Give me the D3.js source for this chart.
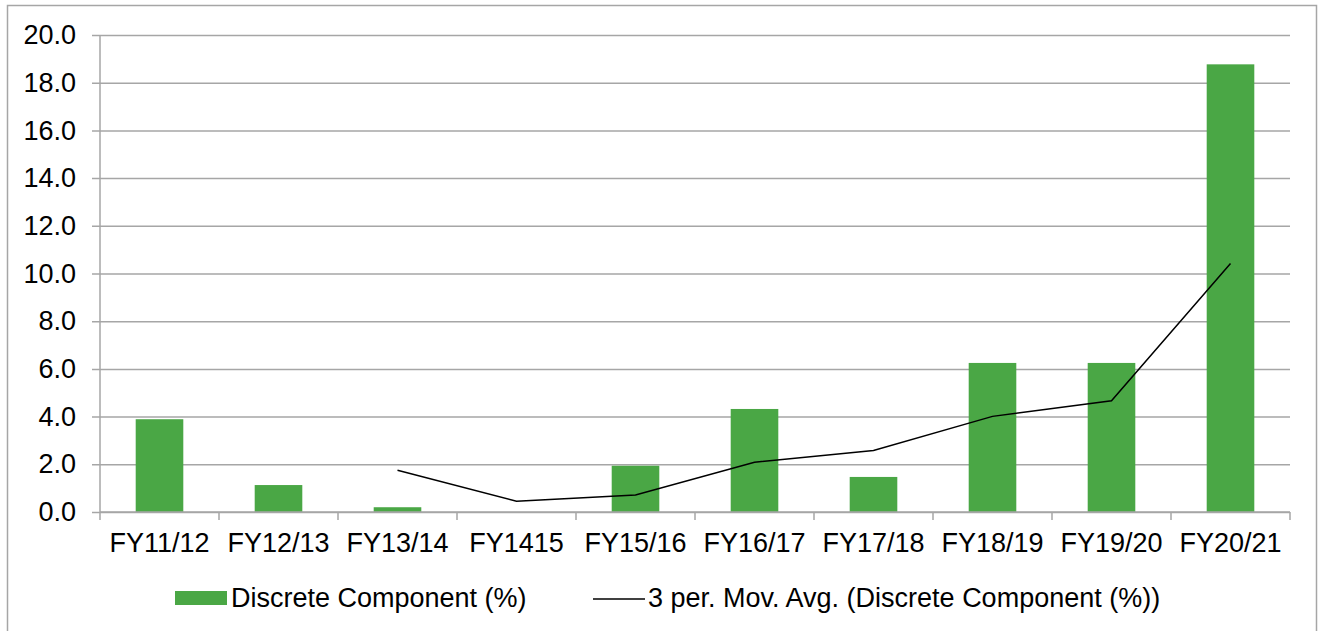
<!DOCTYPE html>
<html>
<head>
<meta charset="utf-8">
<script src="https://cdn.jsdelivr.net/npm/d3@7"></script>
<style>
  html, body { margin: 0; padding: 0; background: #fff; }
  svg { display: block; font-family: "Liberation Sans", Arial, sans-serif; }
</style>
</head>
<body>
<svg id="chart" width="1319" height="631"></svg>
<script>
// Fiscal years on the category axis
const categories = ["FY11/12", "FY12/13", "FY13/14", "FY1415", "FY15/16",
                    "FY16/17", "FY17/18", "FY18/19", "FY19/20", "FY20/21"];
// Discrete component share, percent
const discrete = [3.89, 1.13, 0.2, 0, 1.94, 4.32, 1.47, 6.25, 6.25, 18.77];
// Three-period moving average, starting at the third year
const movAvgCategories = ["FY13/14", "FY1415", "FY15/16", "FY16/17",
                          "FY17/18", "FY18/19", "FY19/20", "FY20/21"];
const movAvg = [1.75, 0.45, 0.71, 2.09, 2.58, 4.01, 4.66, 10.42];
// Value axis ticks
const yTicks = [0, 2, 4, 6, 8, 10, 12, 14, 16, 18, 20];

const svg = d3.select("#chart");
const gridColor = "#a6a6a6";
const barColor = "#4aa745";
const fontSize = 27;

// Outer chart frame
svg.append("rect")
  .attr("x", 7.5).attr("y", 5.5)
  .attr("width", 1309).attr("height", 640)
  .attr("fill", "none").attr("stroke", gridColor).attr("stroke-width", 1.5);

const plot = { left: 100, right: 1290, top: 35, bottom: 512 };

const x = d3.scaleBand().domain(categories)
  .range([plot.left, plot.right]).paddingInner(0.6).paddingOuter(0.3);
const xBand = d3.scaleBand().domain(categories).range([plot.left, plot.right]);
const y = d3.scaleLinear().domain([0, 20]).range([plot.bottom, plot.top]);

// Horizontal gridlines with left tick stubs and labels
const yAxis = d3.axisLeft(y).tickValues(yTicks)
  .tickFormat(d3.format(".1f"))
  .tickSize(-(plot.right - plot.left + 8)).tickSizeOuter(0).tickPadding(16);
const gy = svg.append("g")
  .attr("transform", `translate(${plot.left - 8},0)`)
  .call(yAxis);
gy.select(".domain").remove();
gy.selectAll(".tick line")
  .attr("x1", 0).attr("x2", plot.right - plot.left + 8)
  .attr("stroke", gridColor).attr("stroke-width", 1.5);
gy.selectAll(".tick text")
  .attr("x", -16).attr("fill", "#000")
  .style("font-size", fontSize + "px").style("font-family", "Liberation Sans, Arial, sans-serif");

// Vertical value axis line
svg.append("line")
  .attr("x1", plot.left).attr("x2", plot.left)
  .attr("y1", plot.top).attr("y2", plot.bottom)
  .attr("stroke", gridColor).attr("stroke-width", 1.5);

// Bars
svg.append("g").selectAll("rect")
  .data(categories.map((c, i) => ({ c, v: discrete[i] })))
  .join("rect")
  .attr("x", d => x(d.c))
  .attr("width", x.bandwidth())
  .attr("y", d => y(d.v))
  .attr("height", d => y(0) - y(d.v))
  .attr("fill", barColor);

// Category axis with boundary ticks below the baseline
const gx = svg.append("g").attr("transform", `translate(0,${plot.bottom})`);
gx.append("line")
  .attr("x1", plot.left).attr("x2", plot.right)
  .attr("stroke", gridColor).attr("stroke-width", 1.5);
const bounds = categories.map(c => xBand(c)).concat([plot.right]);
gx.selectAll("line.tk").data(bounds).join("line")
  .attr("class", "tk")
  .attr("x1", d => d).attr("x2", d => d)
  .attr("y1", 0).attr("y2", 8)
  .attr("stroke", gridColor).attr("stroke-width", 1.5);
gx.selectAll("text").data(categories).join("text")
  .attr("x", d => xBand(d) + xBand.bandwidth() / 2)
  .attr("y", 40)
  .attr("text-anchor", "middle")
  .style("font-size", fontSize + "px")
  .text(d => d);

// Moving average line
const line = d3.line()
  .x((d, i) => xBand(movAvgCategories[i]) + xBand.bandwidth() / 2)
  .y(d => y(d));
svg.append("path")
  .datum(movAvg)
  .attr("d", line)
  .attr("fill", "none")
  .attr("stroke", "#000")
  .attr("stroke-width", 1.5);

// Legend
const legend = svg.append("g");
legend.append("rect")
  .attr("x", 175).attr("y", 591).attr("width", 52).attr("height", 14)
  .attr("fill", barColor);
legend.append("text")
  .attr("x", 231).attr("y", 607)
  .style("font-size", fontSize + "px")
  .text("Discrete Component (%)");
legend.append("line")
  .attr("x1", 593).attr("x2", 645).attr("y1", 599).attr("y2", 599)
  .attr("stroke", "#000").attr("stroke-width", 1.5);
legend.append("text")
  .attr("x", 648).attr("y", 607)
  .style("font-size", fontSize + "px")
  .text("3 per. Mov. Avg. (Discrete Component (%))");
</script>
</body>
</html>
